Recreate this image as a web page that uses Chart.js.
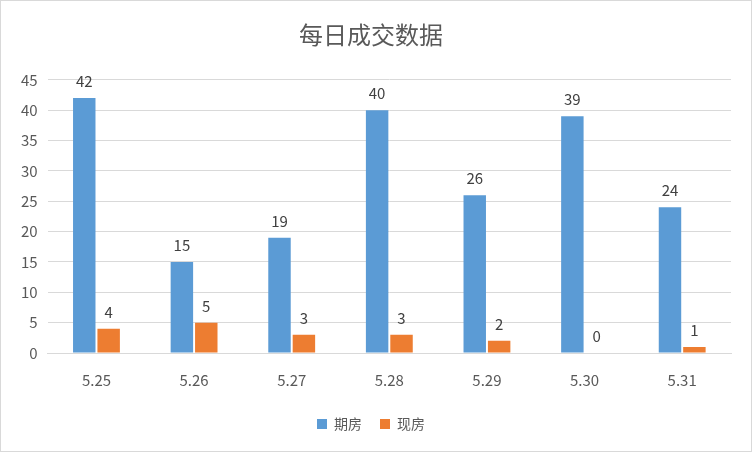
<!DOCTYPE html>
<html>
<head>
<meta charset="utf-8">
<script src="https://cdn.jsdelivr.net/npm/chart.js@4/dist/chart.umd.min.js"></script>
<style>
  html, body { margin: 0; padding: 0; background: #fff; }
  #wrap { width: 750px; height: 450px; border: 1px solid #d9d9d9; }
</style>
</head>
<body>
<div id="wrap"><canvas id="chart" width="750" height="450"></canvas></div>
<script>
// 数据
const fechas = ['5.25', '5.26', '5.27', '5.28', '5.29', '5.30', '5.31'];
const qifang = [42, 15, 19, 40, 26, 39, 24];
const xianfang = [4, 5, 3, 3, 2, 0, 1];
const ticksY = [0, 5, 10, 15, 20, 25, 30, 35, 40, 45];

const fuente = "'Microsoft YaHei', 'Noto Sans CJK SC', sans-serif";

// Etiquetas encima de las barras
const etiquetas = {
    id: 'etiquetas',
    afterDatasetsDraw(chart) {
        const ctx = chart.ctx;
        ctx.save();
        ctx.font = '15px ' + fuente;
        ctx.fillStyle = '#404040';
        ctx.textAlign = 'center';
        ctx.textBaseline = 'bottom';
        chart.data.datasets.forEach((ds, i) => {
            chart.getDatasetMeta(i).data.forEach((bar, j) => {
                ctx.fillText(ds.data[j], bar.x, bar.y - 9);
            });
        });
        ctx.restore();
    }
};

new Chart(document.getElementById('chart'), {
    type: 'bar',
    data: {
        labels: fechas,
        datasets: [
            { label: '期房', data: qifang, backgroundColor: '#5B9BD5' },
            { label: '现房', data: xianfang, backgroundColor: '#ED7D31' }
        ]
    },
    options: {
        responsive: false,
        animation: false,
        layout: { padding: { left: 10, right: 20, top: 0, bottom: 10 } },
        datasets: { bar: { categoryPercentage: 0.5, barPercentage: 0.92 } },
        plugins: {
            title: {
                display: true,
                text: '每日成交数据',
                color: '#595959',
                font: { size: 24, family: fuente, weight: 'normal' },
                padding: { top: 19, bottom: 31 }
            },
            legend: {
                position: 'bottom',
                labels: {
                    color: '#595959',
                    font: { size: 14, family: fuente },
                    boxWidth: 10, boxHeight: 10, padding: 18
                }
            },
            tooltip: { enabled: false }
        },
        scales: {
            y: {
                min: 0, max: 45,
                afterBuildTicks(axis) { axis.ticks = ticksY.map(v => ({ value: v })); },
                ticks: { color: '#595959', font: { size: 15, family: fuente }, padding: 10 },
                grid: { color: '#d9d9d9', drawTicks: false },
                border: { display: false }
            },
            x: {
                ticks: { color: '#595959', font: { size: 15, family: fuente }, padding: 10 },
                grid: { display: false },
                border: { color: '#d9d9d9' }
            }
        }
    },
    plugins: [etiquetas]
});
</script>
</body>
</html>
